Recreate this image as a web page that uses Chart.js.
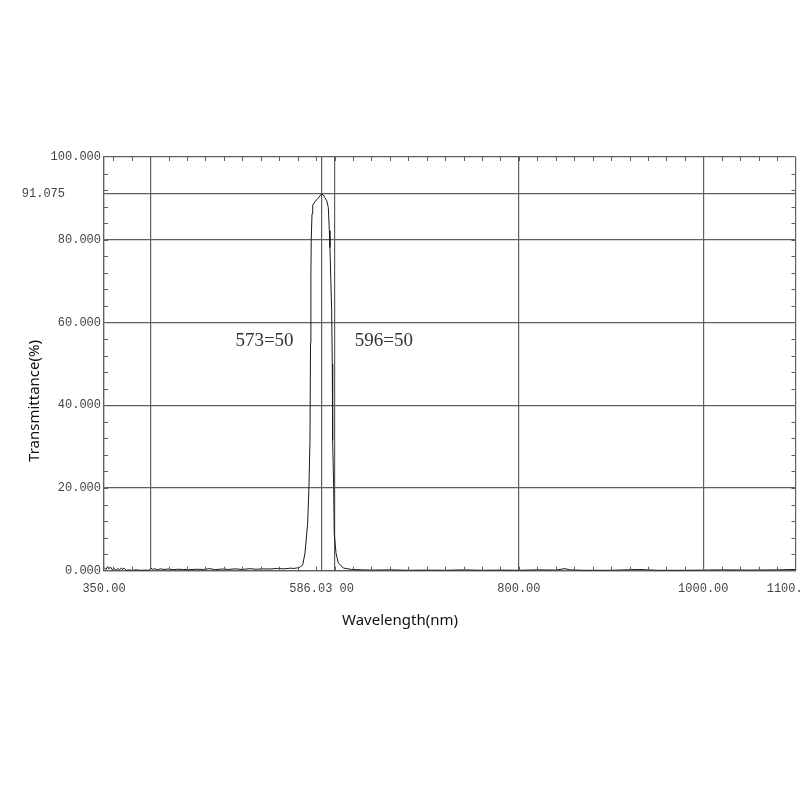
<!DOCTYPE html>
<html>
<head>
<meta charset="utf-8">
<script src="https://cdn.jsdelivr.net/npm/chart.js@4.4.1/dist/chart.umd.min.js"></script>
<style>
  html, body { margin: 0; padding: 0; background: #fff; overflow: hidden; }
  #wrap { width: 800px; height: 800px; }
</style>
</head>
<body>
<div id="wrap"><canvas id="chart" width="800" height="800"></canvas></div>
<script>
// spectrum
const wavelength = [
  350, 352, 354, 355, 357, 359, 361, 363, 365, 367, 369, 370, 372, 374, 377, 380, 385, 390, 395, 399,
  401, 403, 405, 408, 411, 415, 420, 425, 430, 436, 442, 450, 458, 465, 470, 478, 485, 492, 500, 508,
  515, 522, 530, 538, 545, 552, 556, 559, 562, 565.5, 568, 570.9, 572.3, 573.4, 574.0, 574.4, 574.8,
  575.6, 576.4, 578.8, 582, 585, 586.03, 587.9, 589.5, 591.6, 593.3, 594.4, 595.1, 595.9, 596.9, 597.6,
  598.0, 599.1, 599.7, 601.6, 604.1, 609.5, 618.6, 630, 640, 660, 680, 700, 720, 740, 760, 780, 800,
  820, 840, 850, 855, 870, 900, 930, 950, 980, 1000, 1020, 1050, 1080, 1100
];
const transmittance = [
  0.8, 0.3, 1.0, 0.4, 0.9, 0.2, 0.6, 0.1, 0.5, 0.2, 0.7, 0.3, 0.6, 0.1, 0.2, 0.1, 0.2, 0.1, 0.15, 0.1,
  0.6, 0.3, 0.5, 0.2, 0.45, 0.3, 0.4, 0.25, 0.35, 0.3, 0.25, 0.35, 0.3, 0.5, 0.25, 0.4, 0.3, 0.45, 0.3, 0.5,
  0.35, 0.45, 0.4, 0.55, 0.45, 0.6, 0.55, 0.65, 0.8, 1.37, 4.27, 11.5, 20.3, 31.5, 55, 72, 80,
  86.3, 88.4, 89.2, 90.0, 90.8, 91.075, 90.8, 90.2, 89.4, 87.8, 82.2, 78.1, 70.9, 62.9, 50,
  31.5, 20.3, 9.1, 4.3, 1.9, 0.65, 0.3, 0.2, 0.15, 0.2, 0.1, 0.15, 0.1, 0.2, 0.1, 0.15, 0.1,
  0.2, 0.15, 0.5, 0.2, 0.1, 0.1, 0.3, 0.1, 0.1, 0.15, 0.2, 0.15, 0.2, 0.3
];

const xTicks = [350, 400, 586.03, 600, 800, 1000, 1100];
const xTickLabels = ["350.00", "", "586.03 00", "", "800.00", "1000.00", "1100.00 "];
const yTicks = [0, 20, 40, 60, 80, 91.075, 100];
const yTickLabels = ["0.000", "20.000", "40.000", "60.000", "80.000", "91.075     ", "100.000"];
const marks = [
  { text: "573=50", at: 573, side: "left" },
  { text: "596=50", at: 596, side: "right" }
];

const gridColor = "#5f5f5f";
const tickFont = { family: "Liberation Mono", size: 12 };

// small inward ticks on all four sides, plus the axis titles and 50% marks
const extras = {
  id: "extras",
  afterDraw(chart) {
    const { ctx, chartArea: a, scales: { x, y } } = chart;
    ctx.save();
    ctx.strokeStyle = gridColor;
    ctx.lineWidth = 1;
    ctx.beginPath();
    for (let v = 360; v < 1100; v += 20) {
      const px = Math.round(x.getPixelForValue(v)) + 0.5;
      ctx.moveTo(px, a.top); ctx.lineTo(px, a.top + 4);
      ctx.moveTo(px, a.bottom); ctx.lineTo(px, a.bottom - 4);
    }
    for (let v = 4; v < 100; v += 4) {
      const py = Math.round(y.getPixelForValue(v)) + 0.5;
      ctx.moveTo(a.left, py); ctx.lineTo(a.left + 4, py);
      ctx.moveTo(a.right, py); ctx.lineTo(a.right - 4, py);
    }
    ctx.stroke();

    ctx.fillStyle = "#333";
    ctx.font = "19px 'Liberation Serif'";
    ctx.textBaseline = "middle";
    const my = y.getPixelForValue(55.5);
    marks.forEach((m) => {
      if (m.side === "left") {
        ctx.textAlign = "right";
        ctx.fillText(m.text, x.getPixelForValue(m.at) - 16, my);
      } else {
        ctx.textAlign = "left";
        ctx.fillText(m.text, x.getPixelForValue(m.at) + 24, my);
      }
    });

    ctx.fillStyle = "#111";
    ctx.font = "15px 'Noto Sans'";
    ctx.textAlign = "center";
    ctx.fillText("Wavelength(nm)", 400, 621);
    ctx.translate(35, 401);
    ctx.rotate(-Math.PI / 2);
    ctx.fillText("Transmittance(%)", 0, 0);
    ctx.restore();
  }
};

new Chart(document.getElementById("chart"), {
  type: "line",
  data: {
    datasets: [{
      data: wavelength.map((w, i) => ({ x: w, y: transmittance[i] })),
      borderColor: "#1a1a1a",
      borderWidth: 1,
      pointRadius: 0,
      tension: 0,
      fill: false
    }]
  },
  options: {
    responsive: false,
    animation: false,
    devicePixelRatio: 1,
    layout: { padding: { top: 157, left: 0, right: 4.5, bottom: 169.3 } },
    plugins: { legend: { display: false }, tooltip: { enabled: false } },
    scales: {
      x: {
        type: "linear",
        min: 350,
        max: 1100,
        afterBuildTicks: (s) => { s.ticks = xTicks.map((v) => ({ value: v })); },
        afterFit: (s) => { s.height = 60; s.paddingLeft = 0; s.paddingRight = 0; },
        ticks: {
          autoSkip: false,
          maxRotation: 0,
          padding: 11,
          color: "#444",
          font: tickFont,
          callback: (v) => xTickLabels[xTicks.indexOf(v)]
        },
        grid: { color: gridColor, lineWidth: 1.2, drawTicks: false },
        border: { color: gridColor, width: 1.2 }
      },
      y: {
        min: 0,
        max: 100,
        afterBuildTicks: (s) => { s.ticks = yTicks.map((v) => ({ value: v })); },
        afterFit: (s) => { s.width = 104; },
        ticks: {
          padding: 3,
          color: "#444",
          font: tickFont,
          callback: (v) => yTickLabels[yTicks.indexOf(v)]
        },
        grid: { color: gridColor, lineWidth: 1.2, drawTicks: false },
        border: { color: gridColor, width: 1.2 }
      }
    }
  },
  plugins: [extras]
});
</script>
</body>
</html>
